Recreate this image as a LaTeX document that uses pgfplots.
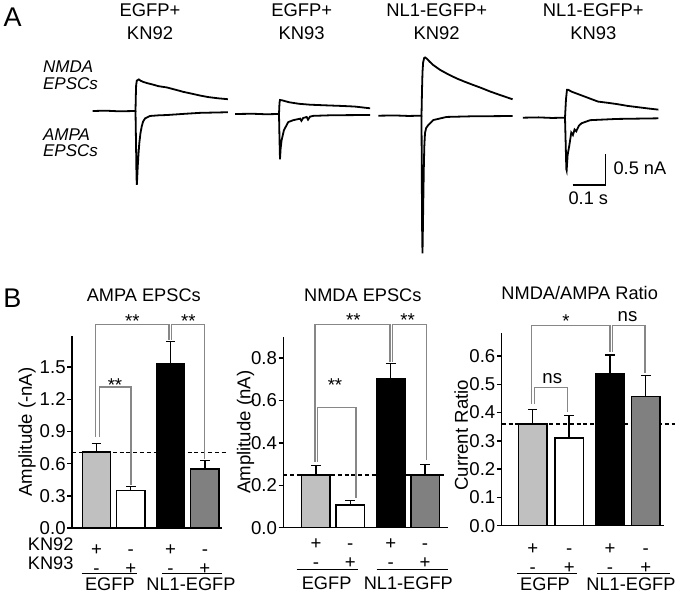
\documentclass[border=0pt]{standalone}
\usepackage{fontspec}
\setmainfont{Liberation Sans}
\usepackage{pgfplots}
\pgfplotsset{compat=1.18}
\definecolor{lgray}{RGB}{192,192,192}
\definecolor{dgray}{RGB}{128,128,128}
\definecolor{brk}{RGB}{135,135,135}
\pgfplotsset{
 barchart/.style={
  scale only axis, clip=false, anchor=south west,
  axis x line*=bottom, axis y line*=left,
  ymin=0, tick align=outside, major tick length=2.4pt,
  y tick style={black, line width=0.7pt},
  x tick style={draw=none},
  axis line style={black, line width=0.75pt},
  /pgf/number format/assume math mode=true,
  /pgf/number format/fixed, /pgf/number format/fixed zerofill, /pgf/number format/precision=1,
  yticklabel style={font=\fontsize{9.3}{11}\selectfont, inner xsep=0.6pt},
  xticklabel style={font=\fontsize{9.3}{9.8}\selectfont, align=center, anchor=north},
  ylabel style={font=\fontsize{9.3}{11}\selectfont},
  xticklabels={{+\\-},{\vphantom{+}-\\+},{+\\-},{\vphantom{+}-\\+}},
 },
 mybar/.style={ybar, bar width=14.2pt, bar shift=0pt, draw=black, line width=0.7pt,
   /pgfplots/error bars/y dir=plus, /pgfplots/error bars/y explicit,
   /pgfplots/error bars/error bar style={black, line width=0.7pt},
   /pgfplots/error bars/error mark options={rotate=90, mark size=2.4pt, line width=0.7pt, black}},
 trace/.style={hide axis, clip=false, anchor=origin, x=0.165pt, y=31pt,
   xmin=-140, xmax=300, ymin=-2.4, ymax=1.0},
 tr/.style={black, line width=0.9pt, no marks},
}
\tikzset{brkline/.style={brk, line width=0.65pt},
 sig/.style={anchor=base, font=\fontsize{9.3}{11}\selectfont, inner sep=0pt},
 txt/.style={font=\fontsize{9.1}{11}\selectfont, inner sep=0pt}}
\begin{document}
\begin{tikzpicture}
\path[use as bounding box] (0,0) rectangle (337.5pt,-297pt);

% ---------------- Panel A text ----------------
\node[anchor=base west, inner sep=0pt, font=\fontsize{13.5}{14}\selectfont] at (1.65pt,-13.35pt) {A};
\node[anchor=base west, inner sep=0pt, font=\fontsize{13.5}{14}\selectfont] at (1.5pt,-153.5pt) {B};
\begin{scope}[every node/.style={anchor=base, inner sep=0pt, font=\fontsize{9.2}{11}\selectfont}]
\node at (75pt,-8.35pt) {EGFP+};      \node at (75pt,-19.65pt) {KN92};
\node at (150.85pt,-8.35pt) {EGFP+};  \node at (150.85pt,-19.65pt) {KN93};
\node at (218.35pt,-8.35pt) {NL1-EGFP+}; \node at (218.35pt,-19.65pt) {KN92};
\node at (296.65pt,-8.35pt) {NL1-EGFP+}; \node at (296.65pt,-19.65pt) {KN93};
\end{scope}
\begin{scope}[every node/.style={anchor=base west, inner sep=0pt, font=\fontsize{8.5}{10}\selectfont\itshape}]
\node at (21.35pt,-36.35pt) {NMDA}; \node at (21.35pt,-44.5pt) {EPSCs};
\node at (21.35pt,-70pt) {AMPA};    \node at (21.35pt,-78.35pt) {EPSCs};
\end{scope}

% ---------------- Traces (time in ms, current in nA) ----------------
\begin{axis}[trace, at={(67.75pt,-55.5pt)}]
\addplot[tr] coordinates {(-130,0) (-90,0.005) (-50,-0.005) (0,0) (1,0.25) (2,0.42) (4,0.49) (7,0.5) (10,0.51) (15,0.49) (23,0.47) (35,0.45) (50,0.43) (70,0.40) (95,0.38) (120,0.345) (144,0.31) (170,0.28) (195,0.25) (220,0.225) (250,0.205) (280,0.19)};
\addplot[tr] coordinates {(0,0) (1.5,-0.5) (3,-1.05) (4,-1.19) (5,-1.1) (6.7,-0.9) (9,-0.7) (11.5,-0.52) (15,-0.36) (18.8,-0.25) (23,-0.17) (28.8,-0.12) (44,-0.08) (70,-0.07) (95,-0.065) (150,-0.045) (195,-0.03) (280,-0.02)};
\end{axis}
\begin{axis}[trace, at={(139.5pt,-57pt)}]
\addplot[tr] coordinates {(-133,0) (-80,0.004) (-40,-0.004) (0,0) (1.5,0.18) (3,0.226) (10,0.22) (30,0.19) (60,0.165) (94,0.15) (140,0.14) (195,0.129) (230,0.12) (276,0.092)};
\addplot[tr] coordinates {(0,0) (1.5,-0.4) (3,-0.73) (5,-0.55) (8,-0.42) (15,-0.26) (28,-0.13) (43,-0.1) (64,-0.075) (68,-0.11) (73,-0.065) (84,-0.048) (88,-0.09) (94,-0.042) (104,-0.03) (160,-0.02) (276,-0.016)};
\end{axis}
\begin{axis}[trace, at={(210.75pt,-57.85pt)}]
\addplot[tr] coordinates {(-131,0) (-80,0.004) (-40,-0.004) (0,0) (1.5,0.4) (3,0.7) (5,0.86) (8,0.93) (11,0.94) (16,0.92) (25,0.87) (35,0.82) (56,0.74) (80,0.67) (107,0.6) (130,0.55) (157,0.495) (180,0.45) (208,0.39) (240,0.33) (276,0.265)};
\addplot[tr] coordinates {(0,0) (1,-1.1) (2,-1.9) (3,-2.22) (4,-1.9) (5.5,-1.36) (7,-0.85) (8.5,-0.5) (10.6,-0.28) (14,-0.2) (20.6,-0.15) (35.8,-0.07) (76,-0.02) (150,-0.01) (276,-0.005)};
\end{axis}
\begin{axis}[trace, at={(282.5pt,-58.85pt)}]
\addplot[tr] coordinates {(-128,0) (-80,0.005) (-40,-0.004) (0,0) (3,0.3) (6,0.45) (10,0.45) (20,0.42) (35,0.39) (55,0.35) (80,0.3) (100,0.26) (130,0.24) (157,0.22) (190,0.19) (220,0.17) (250,0.15) (283,0.13)};
\addplot[tr] coordinates {(0,0) (2,-0.4) (4,-0.83) (5,-0.85) (8,-0.6) (13,-0.45) (19,-0.24) (24,-0.28) (29,-0.19) (34,-0.22) (42,-0.13) (50,-0.09) (76,-0.04) (157,-0.02) (283,-0.01)};
% scale bars
\addplot[black, line width=0.8pt] coordinates {(23.3,-1.085) (123.3,-1.085) (123.3,-0.585)};
\node[anchor=base west, txt] at (axis cs:146,-0.924) {0.5 nA};
\node[anchor=base, txt] at (axis cs:70.6,-1.392) {0.1 s};
\end{axis}

% ---------------- AMPA EPSCs ----------------
\begin{axis}[barchart, at={(36pt,-264pt)}, width=75pt, height=96pt,
  xmin=-0.714, xmax=3.66, ymax=1.79, ytick={0,0.3,0.6,0.9,1.2,1.5},
  xtick={0,1,2.16,3.16}, xticklabel style={yshift=-2.2pt},
  ylabel={Amplitude (-nA)}, ylabel style={at={(axis description cs:-0.3,0.5)}, anchor=center}]
\addplot[black, dash pattern=on 2pt off 1.4pt, line width=0.65pt, forget plot] coordinates {(-0.714,0.707) (3.80,0.707)};
\addplot[mybar, fill=lgray] coordinates {(0,0.71) +- (0,0.08)};
\addplot[mybar, fill=white] coordinates {(1,0.35) +- (0,0.035)};
\addplot[mybar, fill=black] coordinates {(2.16,1.533) +- (0,0.205)};
\addplot[mybar, fill=dgray] coordinates {(3.16,0.55) +- (0,0.08)};
\draw[brkline] (axis cs:-0.02,0.85) -- (axis cs:-0.02,1.897) -- (axis cs:2.115,1.897) -- (axis cs:2.115,1.757);
\draw[brkline] (axis cs:2.19,1.757) -- (axis cs:2.19,1.897) -- (axis cs:3.16,1.897) -- (axis cs:3.16,0.645);
\draw[brkline] (axis cs:0.082,0.85) -- (axis cs:0.082,1.315) -- (axis cs:1.006,1.315) -- (axis cs:1.006,0.40);
\node[sig] at (axis cs:1.045,1.873) {**};
\node[sig] at (axis cs:2.68,1.873) {**};
\node[sig] at (axis cs:0.54,1.277) {**};
\node[txt, anchor=base] at (axis cs:1.38,2.112) {AMPA EPSCs};
\node[txt, anchor=base west] at (axis cs:-2.01,-0.2056) {KN92};
\node[txt, anchor=base west] at (axis cs:-2.01,-0.386) {KN93};
\draw[black, line width=0.7pt] (axis cs:-0.431,-0.423) -- (axis cs:1.172,-0.423);
\draw[black, line width=0.7pt] (axis cs:1.918,-0.423) -- (axis cs:3.65,-0.423);
\node[txt, anchor=base] at (axis cs:0.39,-0.579) {EGFP};
\node[txt, anchor=base] at (axis cs:2.755,-0.579) {NL1-EGFP};
\end{axis}

% ---------------- NMDA EPSCs ----------------
\begin{axis}[barchart, at={(141.65pt,-263.85pt)}, width=82.5pt, height=95.5pt,
  xmin=-0.953, xmax=3.857, ymax=0.9, ytick={0,0.2,0.4,0.6,0.8},
  xtick={0,1,2.18,3.18}, xticklabel style={yshift=0.6pt},
  ylabel={Amplitude (nA)}, ylabel style={at={(axis description cs:-0.228,0.5)}, anchor=center}]
\addplot[black, dash pattern=on 2pt off 1.4pt, line width=0.65pt, forget plot] coordinates {(-0.953,0.248) (3.79,0.248)};
\addplot[mybar, fill=lgray] coordinates {(0,0.248) +- (0,0.046)};
\addplot[mybar, fill=white] coordinates {(1,0.107) +- (0,0.02)};
\addplot[mybar, fill=black] coordinates {(2.18,0.70) +- (0,0.073)};
\addplot[mybar, fill=dgray] coordinates {(3.18,0.248) +- (0,0.05)};
\draw[brkline] (axis cs:-0.03,0.31) -- (axis cs:-0.03,0.957) -- (axis cs:2.157,0.957) -- (axis cs:2.157,0.781);
\draw[brkline] (axis cs:2.224,0.781) -- (axis cs:2.224,0.957) -- (axis cs:3.227,0.957) -- (axis cs:3.227,0.319);
\draw[brkline] (axis cs:0.038,0.31) -- (axis cs:0.038,0.565) -- (axis cs:1.166,0.565) -- (axis cs:1.166,0.138);
\node[sig] at (axis cs:1.087,0.946) {**};
\node[sig] at (axis cs:2.673,0.946) {**};
\node[sig] at (axis cs:0.554,0.643) {**};
\node[txt, anchor=base] at (axis cs:1.365,1.067) {NMDA EPSCs};
\draw[black, line width=0.7pt] (axis cs:-0.563,-0.196) -- (axis cs:1.224,-0.196);
\draw[black, line width=0.7pt] (axis cs:1.77,-0.196) -- (axis cs:3.857,-0.196);
\node[txt, anchor=base] at (axis cs:0.31,-0.293) {EGFP};
\node[txt, anchor=base] at (axis cs:2.69,-0.293) {NL1-EGFP};
\end{axis}

% ---------------- NMDA/AMPA Ratio ----------------
\begin{axis}[barchart, at={(250.85pt,-262.85pt)}, width=81.15pt, height=96.2pt,
  xmin=-0.856, xmax=3.627, ymax=0.68, ytick={0,0.1,0.2,0.3,0.4,0.5,0.6},
  xtick={0,1.008,2.135,3.124}, xticklabel style={yshift=-2.9pt},
  ylabel={Current Ratio}, ylabel style={at={(axis description cs:-0.25,0.47)}, anchor=center}]
\addplot[black, dash pattern=on 2pt off 1.4pt, line width=0.65pt, forget plot] coordinates {(-0.856,0.359) (3.93,0.359)};
\addplot[mybar, fill=lgray] coordinates {(0,0.359) +- (0,0.051)};
\addplot[mybar, fill=white] coordinates {(1.008,0.31) +- (0,0.08)};
\addplot[mybar, fill=black] coordinates {(2.135,0.537) +- (0,0.066)};
\addplot[mybar, fill=dgray] coordinates {(3.124,0.457) +- (0,0.073)};
\draw[brkline] (axis cs:-0.028,0.431) -- (axis cs:-0.028,0.708) -- (axis cs:2.135,0.708) -- (axis cs:2.135,0.615);
\draw[brkline] (axis cs:2.199,0.615) -- (axis cs:2.199,0.708) -- (axis cs:3.10,0.708) -- (axis cs:3.10,0.541);
\draw[brkline] (axis cs:0.044,0.431) -- (axis cs:0.044,0.488) -- (axis cs:0.967,0.488) -- (axis cs:0.967,0.403);
\node[sig] at (axis cs:0.92,0.70) {*};
\node[sig] at (axis cs:2.62,0.7227) {ns};
\node[sig] at (axis cs:0.541,0.502) {ns};
\node[txt, anchor=base] at (axis cs:1.298,0.80) {NMDA/AMPA Ratio};
\draw[black, line width=0.7pt] (axis cs:-0.425,-0.169) -- (axis cs:1.215,-0.169);
\draw[black, line width=0.7pt] (axis cs:1.768,-0.169) -- (axis cs:3.79,-0.169);
\node[txt, anchor=base] at (axis cs:0.34,-0.228) {EGFP};
\node[txt, anchor=base] at (axis cs:2.715,-0.228) {NL1-EGFP};
\end{axis}
\end{tikzpicture}
\end{document}
